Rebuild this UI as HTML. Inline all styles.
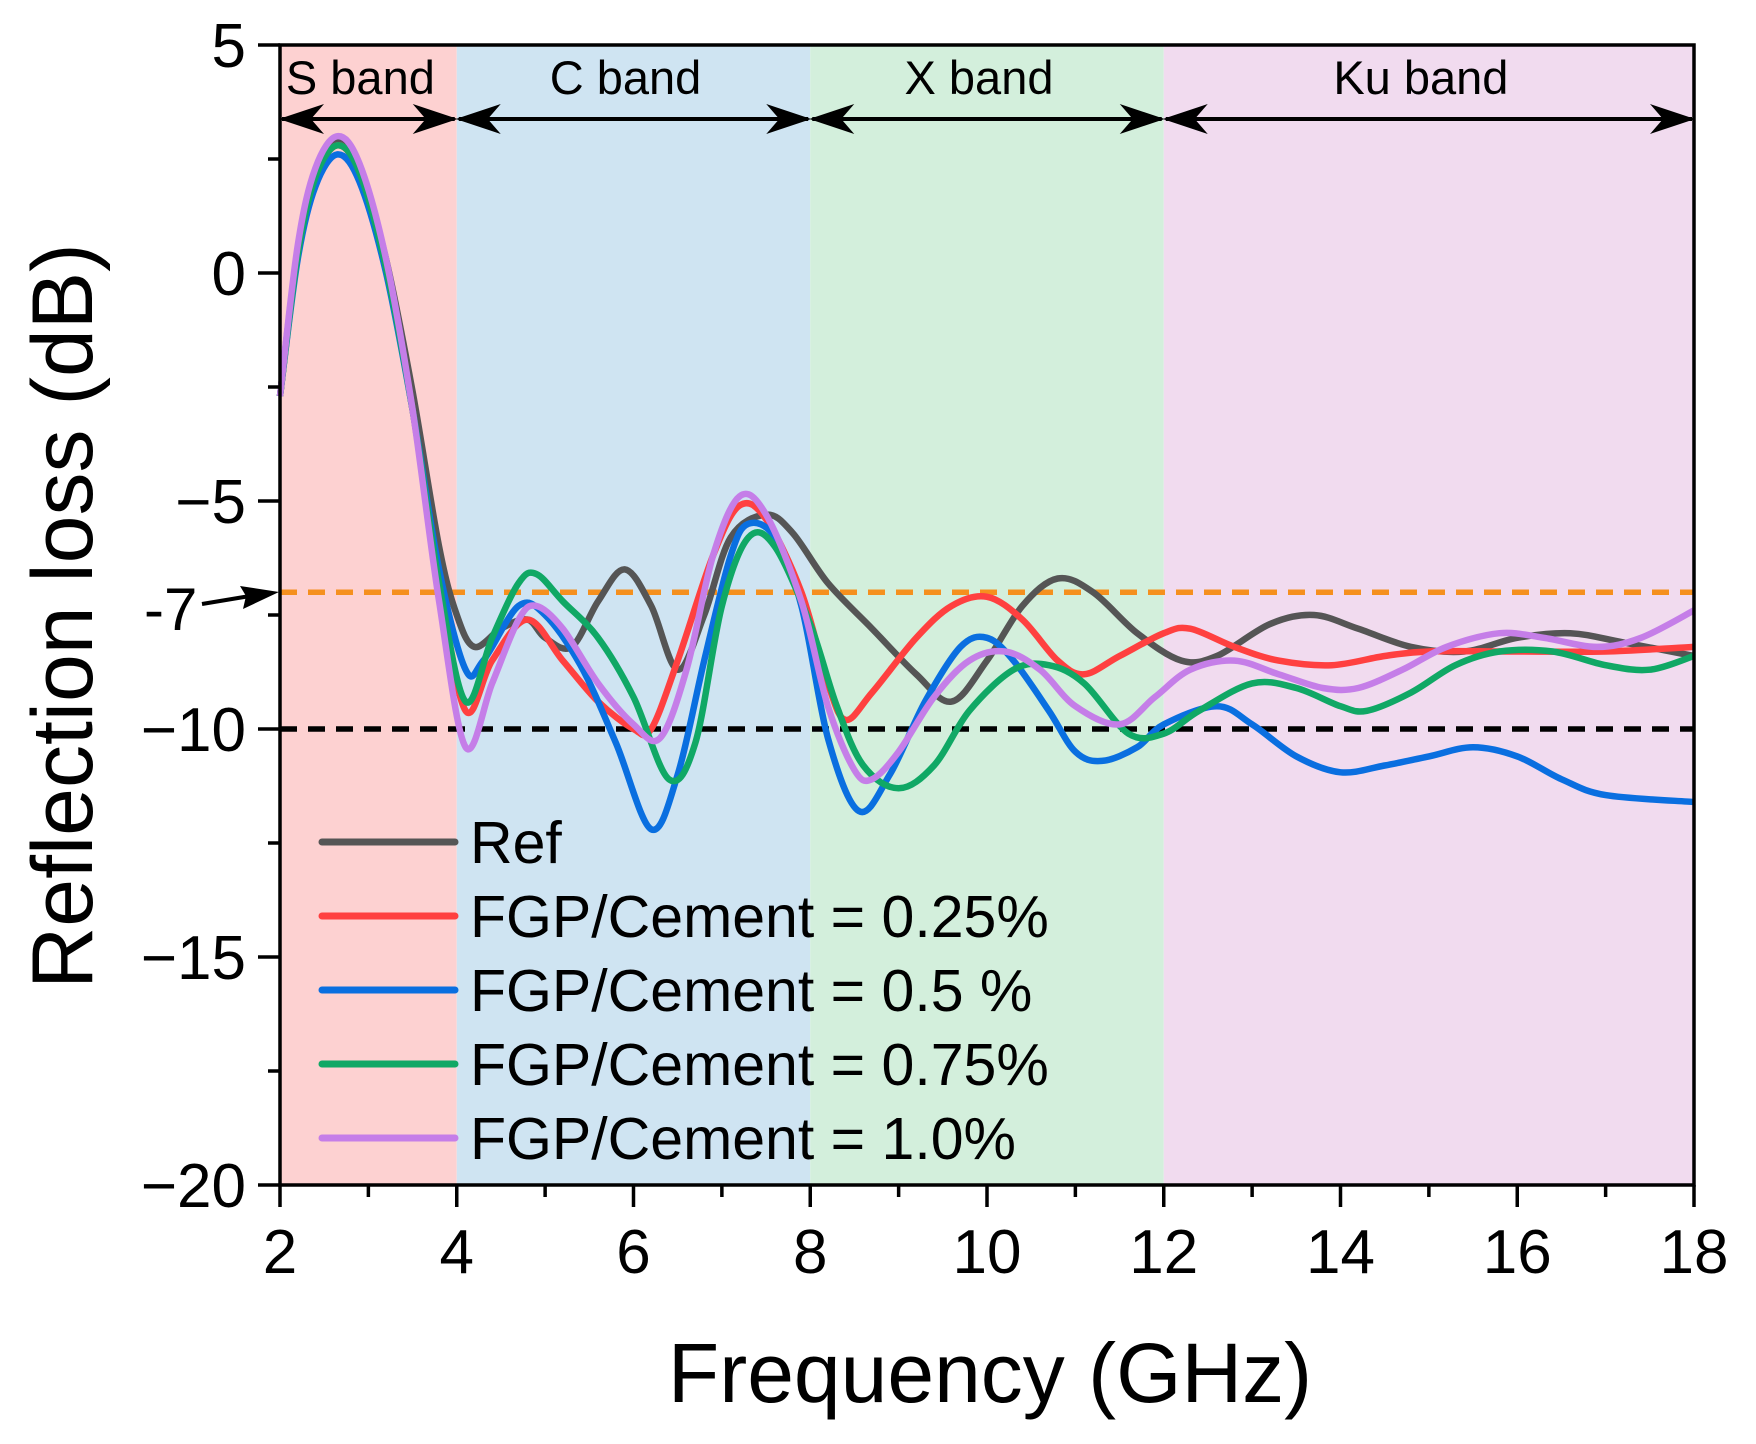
<!DOCTYPE html>
<html><head><meta charset="utf-8"><style>
html,body{margin:0;padding:0;background:#fff}
svg{display:block;font-family:"Liberation Sans",sans-serif}
</style></head><body>
<svg id="chart" width="1756" height="1444" viewBox="0 0 1756 1444" xmlns="http://www.w3.org/2000/svg">
<g id="bands"></g>
<g id="refs"></g>
<g id="series"></g>
<g id="axes"></g>
<g id="legend"></g>
<text x="990" y="1402" font-size="84" text-anchor="middle">Frequency (GHz)</text>
<text transform="translate(92,616) rotate(-90)" font-size="86" text-anchor="middle">Reflection loss (dB)</text>
</svg>
<script>
const xTicks=[2,4,6,8,10,12,14,16,18];
const yTicks=[5,0,-5,-10,-15,-20];
const yTickLabels=["5","0","\u22125","\u221210","\u221215","\u221220"];
const bandNames=["S band","C band","X band","Ku band"];
const bandStart=[2,4,8,12];
const bandEnd=[4,8,12,18];
const bandColors=["#fdd1d1","#cfe4f2","#d3efdc","#f1dbef"];
const thresholdValues=[-7,-10];
const seriesNames=["Ref","FGP/Cement = 0.25%","FGP/Cement = 0.5 %","FGP/Cement = 0.75%","FGP/Cement = 1.0%"];
const seriesColors=["#555555","#ff4040","#0a6fe0","#10a865","#c57ee8"];
const freqRef=[2,2.2,2.4,2.65,2.9,3.2,3.5,3.8,4.0,4.2,4.5,4.8,5.0,5.3,5.6,5.9,6.2,6.5,6.8,7.1,7.5,7.8,8.2,8.7,9.2,9.6,10.0,10.4,10.8,11.2,11.7,12.2,12.6,13.2,13.7,14.2,14.8,15.4,16,16.6,17.2,18];
const lossRef=[-2.7,0.5,2.2,2.9,2.3,0.3,-2.6,-6.0,-7.5,-8.2,-7.8,-7.6,-8.0,-8.2,-7.2,-6.5,-7.3,-8.7,-7.5,-5.8,-5.3,-5.7,-6.8,-7.8,-8.8,-9.4,-8.5,-7.3,-6.7,-7.0,-7.9,-8.5,-8.4,-7.7,-7.5,-7.8,-8.2,-8.3,-8.0,-7.9,-8.1,-8.4];
const freqA=[2,2.2,2.4,2.65,2.9,3.2,3.5,3.8,4.1,4.4,4.8,5.2,5.6,6.0,6.2,6.5,6.9,7.2,7.5,7.9,8.2,8.4,8.7,9.2,9.6,10.0,10.4,10.8,11.1,11.5,12.0,12.3,12.8,13.3,13.9,14.5,15,16,17,18];
const lossA=[-2.7,0.4,2.1,2.8,2.2,0.1,-3.0,-6.8,-9.6,-8.5,-7.6,-8.5,-9.4,-10.0,-10.0,-8.5,-6.2,-5.1,-5.4,-7.0,-9.0,-9.8,-9.2,-8.0,-7.3,-7.1,-7.6,-8.5,-8.8,-8.4,-7.9,-7.8,-8.2,-8.5,-8.6,-8.4,-8.3,-8.3,-8.3,-8.2];
const freqB=[2,2.2,2.4,2.65,2.9,3.2,3.5,3.8,4.1,4.3,4.7,5.0,5.4,5.8,6.2,6.5,6.8,7.1,7.3,7.6,7.9,8.2,8.55,8.9,9.3,9.7,10.0,10.3,10.7,11.0,11.3,11.7,12.0,12.6,13.0,13.5,14.0,14.5,15.0,15.5,16.0,16.5,17,18];
const lossB=[-2.7,0.3,1.9,2.6,2.0,0.0,-3.0,-6.5,-8.7,-8.5,-7.3,-7.5,-8.6,-10.3,-12.2,-11.0,-8.5,-6.2,-5.5,-5.8,-7.3,-10.2,-11.8,-11.0,-9.4,-8.2,-8.0,-8.5,-9.6,-10.5,-10.7,-10.4,-9.9,-9.5,-9.9,-10.6,-10.95,-10.8,-10.6,-10.4,-10.6,-11.1,-11.45,-11.6];
const freqC=[2,2.2,2.4,2.65,2.9,3.2,3.5,3.8,4.1,4.4,4.7,4.9,5.2,5.6,6.0,6.4,6.7,7.0,7.3,7.6,8.0,8.3,8.6,9.0,9.4,9.8,10.3,10.7,11.1,11.6,12.0,12.4,13.0,13.5,14.0,14.3,14.8,15.3,15.8,16.4,17.0,17.5,18];
const lossC=[-2.7,0.4,2.1,2.8,2.2,0.1,-3.0,-6.8,-9.4,-8.0,-6.8,-6.6,-7.2,-8.0,-9.3,-11.1,-10.3,-7.3,-5.8,-6.0,-7.7,-9.5,-10.8,-11.3,-10.8,-9.6,-8.7,-8.6,-9.0,-10.1,-10.1,-9.6,-9.0,-9.1,-9.5,-9.6,-9.2,-8.6,-8.3,-8.3,-8.6,-8.7,-8.4];
const freqD=[2,2.2,2.4,2.65,2.9,3.2,3.5,3.8,4.1,4.4,4.7,4.9,5.2,5.6,6.0,6.3,6.6,6.9,7.2,7.5,7.9,8.2,8.5,8.7,9.0,9.4,9.8,10.2,10.6,11.0,11.5,11.9,12.3,12.8,13.3,13.8,14.2,14.7,15.2,15.8,16.3,16.9,17.4,18];
const lossD=[-2.7,0.6,2.3,3.0,2.4,0.3,-3.0,-7.2,-10.4,-9.0,-7.6,-7.3,-7.8,-9.0,-9.9,-10.2,-8.7,-6.2,-4.9,-5.3,-7.2,-9.5,-10.9,-11.1,-10.5,-9.3,-8.5,-8.3,-8.7,-9.5,-9.9,-9.3,-8.7,-8.5,-8.8,-9.1,-9.1,-8.7,-8.2,-7.9,-8.0,-8.2,-8.0,-7.4];
const seriesFreq=[freqRef,freqA,freqB,freqC,freqD];
const seriesLoss=[lossRef,lossA,lossB,lossC,lossD];

const X0=280,X1=1694,Y0=45,Y1=1185,XMIN=2,XMAX=18,YMIN=-20,YMAX=5;
const NS="http://www.w3.org/2000/svg";
function xs(v){return X0+(v-XMIN)/(XMAX-XMIN)*(X1-X0);}
function ys(v){return Y1-(v-YMIN)/(YMAX-YMIN)*(Y1-Y0);}
function mk(tag,attrs,parent){const e=document.createElementNS(NS,tag);for(const k in attrs)e.setAttribute(k,attrs[k]);parent.appendChild(e);return e;}
const gB=document.getElementById('bands'),gR=document.getElementById('refs'),gS=document.getElementById('series'),gA=document.getElementById('axes'),gL=document.getElementById('legend');

bandNames.forEach((n,i)=>{
  const r=mk('rect',{x:xs(bandStart[i]),y:Y0,width:xs(bandEnd[i])-xs(bandStart[i]),height:Y1-Y0,fill:bandColors[i]},gB);
  
  
  const t=mk('text',{x:(xs(bandStart[i])+xs(bandEnd[i]))/2-8,y:94,'font-size':47,'text-anchor':'middle'},gB);
  t.textContent=n;
  
  
  const ay=119,a=xs(bandStart[i]),b=xs(bandEnd[i]);
  const ar=mk('path',{d:`M${a+2},${ay}L${b-2},${ay}`,stroke:'#000','stroke-width':4},gB);
  
  
  const h1=mk('path',{d:`M${a-1},${ay}L${a+44},${ay-15}L${a+31},${ay}L${a+44},${ay+15}Z`,fill:'#000'},gB);
  
  
  const h2=mk('path',{d:`M${b+1},${ay}L${b-44},${ay-15}L${b-31},${ay}L${b-44},${ay+15}Z`,fill:'#000'},gB);
  
  
});

const refColors=["#f5901e","#000"];
thresholdValues.forEach((v,i)=>{
  const l=mk('line',{x1:X0,x2:X1,y1:ys(v),y2:ys(v),stroke:refColors[i],'stroke-width':5.5,'stroke-dasharray':'17 11'},gR);
  
  
});

function smooth(px,py){
  let d=`M${px[0].toFixed(1)},${py[0].toFixed(1)}`;
  for(let i=0;i<px.length-1;i++){
    const x0=px[Math.max(i-1,0)],y0=py[Math.max(i-1,0)],x1=px[i],y1=py[i],x2=px[i+1],y2=py[i+1],x3=px[Math.min(i+2,px.length-1)],y3=py[Math.min(i+2,px.length-1)];
    const c1x=x1+(x2-x0)/6,c1y=y1+(y2-y0)/6,c2x=x2-(x3-x1)/6,c2y=y2-(y3-y1)/6;
    d+=`C${c1x.toFixed(1)},${c1y.toFixed(1)} ${c2x.toFixed(1)},${c2y.toFixed(1)} ${x2.toFixed(1)},${y2.toFixed(1)}`;
  }
  return d;
}
seriesNames.forEach((n,i)=>{
  const p=mk('path',{d:smooth(seriesFreq[i].map(xs),seriesLoss[i].map(ys)),fill:'none',stroke:seriesColors[i],'stroke-width':6.5,'stroke-linejoin':'round'},gS);
  
  
});

const fr=mk('rect',{x:X0,y:Y0,width:X1-X0,height:Y1-Y0,fill:'none',stroke:'#000','stroke-width':3.5},gA);


for(let v=XMIN;v<=XMAX;v+=1){
  const major=(v%2===0);
  const t=mk('line',{x1:xs(v),x2:xs(v),y1:Y1,y2:Y1+(major?22:12),stroke:'#000','stroke-width':3.5},gA);
  
  
}
xTicks.forEach(v=>{
  const t=mk('text',{x:xs(v),y:1273,'font-size':62,'text-anchor':'middle'},gA);
  t.textContent=String(v);
  
  
});
for(let v=YMIN;v<=YMAX;v+=2.5){
  const major=(v%5===0);
  const t=mk('line',{x1:X0,x2:X0-(major?22:12),y1:ys(v),y2:ys(v),stroke:'#000','stroke-width':3.5},gA);
  
  
}
yTicks.forEach((v,i)=>{
  const t=mk('text',{x:246,y:ys(v)+22,'font-size':62,'text-anchor':'end'},gA);
  t.textContent=yTickLabels[i];
  
  
});
const m7=mk('text',{x:144,y:630,'font-size':60},gA);
m7.textContent='-7';


const ma=mk('path',{d:'M202,604L250,596',stroke:'#000','stroke-width':4},gA);


const mh=mk('path',{d:'M279,592L240,586L246,596L243,609Z',fill:'#000'},gA);



const legY=[842,916,990,1064,1138];
seriesNames.forEach((n,i)=>{
  const l=mk('line',{x1:322,x2:455,y1:legY[i],y2:legY[i],stroke:seriesColors[i],'stroke-width':7,'stroke-linecap':'round'},gL);
  
  
  const t=mk('text',{x:470,y:legY[i]+21,'font-size':59},gL);
  t.textContent=n;
  
  
});
</script>
</body></html>
